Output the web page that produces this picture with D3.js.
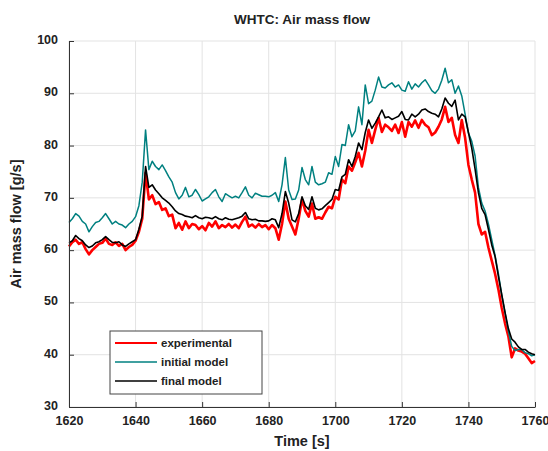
<!DOCTYPE html>
<html>
<head>
<meta charset="utf-8">
<script src="https://cdn.jsdelivr.net/npm/d3@7"></script>
<style>
  html, body { margin: 0; padding: 0; background: #fff; }
  svg { display: block; }
  text { font-family: "Liberation Sans", Arial, sans-serif; font-weight: bold; fill: #222; }
</style>
</head>
<body>
<svg id="chart" width="548" height="451"></svg>
<script>
// ---- data ----
const timeStart = 1620;
const timeTicks = [1620, 1640, 1660, 1680, 1700, 1720, 1740, 1760];
const flowTicks = [30, 40, 50, 60, 70, 80, 90, 100];
const seriesNames = ["experimental", "initial model", "final model"];

const experimental = [
  60.7, 61.5, 62.0, 61.2, 61.5, 60.2, 59.2, 60.0, 60.6, 61.2,
  61.4, 62.2, 61.2, 61.0, 61.5, 60.8, 61.2, 60.0, 60.6, 61.0,
  61.8, 63.5, 66.0, 74.8, 69.7, 70.5, 68.8, 69.2, 67.7, 68.0,
  66.5, 66.8, 64.2, 65.2, 63.9, 65.5, 64.2, 65.0, 64.8, 64.0,
  64.6, 63.8, 65.2, 64.5, 65.5, 64.2, 64.8, 64.4, 65.0, 64.3,
  64.9, 64.2, 65.4, 66.4, 64.5, 64.9, 64.3, 65.0, 64.4, 64.8,
  64.0, 64.8, 64.2, 62.0, 65.0, 69.3, 66.0, 64.5, 63.0, 66.0,
  69.7, 67.5, 66.4, 68.9, 66.0, 66.3, 66.0, 67.2, 68.3, 68.0,
  70.2, 69.7, 73.5, 72.8, 76.0, 75.2, 76.8, 78.6, 76.0, 79.0,
  83.0, 80.5, 83.0, 85.3, 82.6, 84.0, 83.5, 82.8, 84.0, 82.4,
  84.5, 81.7, 84.5, 83.6, 84.8, 83.4, 84.9, 84.0, 83.5, 82.0,
  82.5, 83.6, 85.0, 87.4, 84.5, 85.3, 82.0, 80.5, 84.9, 81.5,
  76.3, 73.5, 71.0, 65.0, 63.0, 63.5, 60.5, 58.0, 55.5, 52.5,
  49.0, 46.0, 43.5, 39.5, 41.2, 40.8, 40.6, 40.2, 39.3, 38.4,
  38.8
];

const initialModel = [
  65.3, 66.0, 67.0, 66.5, 65.5, 65.0, 63.5, 64.5, 65.3, 65.5,
  66.2, 67.0, 66.0, 65.0, 65.5, 65.0, 64.8, 64.3, 65.0, 65.5,
  66.4, 68.5, 73.0, 83.0, 75.4, 77.0, 76.0, 75.4, 76.3, 75.2,
  74.0, 73.0, 71.0, 69.8, 70.5, 72.0, 70.2, 70.5, 71.6, 70.6,
  69.4, 69.8, 70.2, 71.0, 71.6, 70.2, 69.3, 70.8, 70.4, 70.0,
  70.3, 70.0, 71.0, 72.1, 70.5, 70.0, 70.9, 70.6, 70.3, 70.3,
  70.2, 70.5, 71.0, 69.3, 72.5, 77.7, 71.5, 69.7, 69.8, 71.5,
  75.8, 73.5, 72.5, 76.0, 73.0, 72.5, 72.7, 73.0, 74.8, 74.5,
  77.9, 76.0, 80.2, 80.0, 84.0, 81.7, 82.8, 87.4, 84.0, 91.6,
  88.0, 88.5, 90.6, 93.1, 91.2, 91.0, 91.6, 92.0, 91.2, 91.6,
  90.6, 90.4, 92.2, 90.8, 91.8, 91.2, 92.0, 92.6, 91.6, 90.5,
  90.0, 90.8, 92.5, 94.8, 92.0, 92.6, 90.0, 91.4, 89.5, 86.0,
  82.4, 80.8, 78.0, 72.0, 69.0, 67.5, 65.0, 62.0, 59.0, 55.5,
  51.5, 48.0, 44.5, 41.6, 40.8, 41.0, 41.0, 40.4, 40.2, 39.8,
  40.0
];

const finalModel = [
  61.4, 61.8, 62.8, 62.2, 61.8, 61.0, 60.5, 60.8, 61.4, 61.6,
  62.0, 62.6, 62.0, 61.5, 61.4, 61.6, 61.0, 60.7, 61.2, 61.6,
  62.0, 64.0, 66.5, 76.0, 72.0, 72.5, 71.5, 70.8, 70.0, 69.5,
  69.0, 68.3, 67.5, 67.0, 66.8, 66.5, 66.4, 66.2, 66.6, 66.2,
  66.0, 66.3, 66.2, 66.0, 66.4, 66.0, 65.8, 66.2, 65.9, 65.8,
  66.0, 66.2, 66.5, 67.2, 66.0, 65.8, 65.9, 65.6, 65.6, 65.5,
  65.6, 66.0, 65.8, 64.3, 67.0, 71.2, 69.0, 65.8, 65.4, 67.0,
  70.2, 68.5, 67.8, 70.2, 68.0, 67.7, 67.9, 68.5, 69.1, 69.7,
  71.6, 71.4, 74.0, 74.5, 77.3, 76.0, 77.9, 80.5, 79.2, 82.5,
  84.9, 83.3, 84.3, 85.5, 86.8, 85.3, 85.5, 85.0, 85.3, 85.6,
  86.5, 85.0, 84.9, 86.0, 85.5, 86.0, 86.8, 87.0, 86.5, 86.2,
  86.0, 85.5, 87.0, 89.1, 88.1, 87.5, 88.7, 84.9, 86.0, 85.5,
  82.5, 79.5, 75.5, 71.0, 68.0, 66.8, 64.0, 61.0, 58.8, 55.0,
  51.5, 48.1, 45.0, 43.0, 42.4, 41.5, 41.0, 41.0, 40.5, 40.2,
  40.0
];

// ---- layout ----
const svg = d3.select("#chart");
const M = { left: 69, right: 535, top: 41, bottom: 407 };

const x = d3.scaleLinear().domain([1620, 1760]).range([M.left, M.right]);
const y = d3.scaleLinear().domain([30, 100]).range([M.bottom, M.top]);

// grid
const grid = svg.append("g");
grid.selectAll("line.v").data(timeTicks).join("line")
  .attr("x1", d => x(d)).attr("x2", d => x(d))
  .attr("y1", M.top).attr("y2", M.bottom)
  .attr("stroke", "#e3e3e3").attr("stroke-width", 1);
grid.selectAll("line.h").data(flowTicks).join("line")
  .attr("x1", M.left).attr("x2", M.right)
  .attr("y1", d => y(d)).attr("y2", d => y(d))
  .attr("stroke", "#e3e3e3").attr("stroke-width", 1);

// lines
const toPts = arr => arr.map((v, i) => [timeStart + i, v]);
const line = d3.line().x(d => x(d[0])).y(d => y(d[1]));
const series = [
  { name: seriesNames[0], data: experimental, color: "#ff0000", width: 2.6 },
  { name: seriesNames[1], data: initialModel, color: "#008080", width: 1.5 },
  { name: seriesNames[2], data: finalModel, color: "#000000", width: 1.6 }
];
svg.append("g").selectAll("path").data(series).join("path")
  .attr("d", s => line(toPts(s.data)))
  .attr("fill", "none")
  .attr("stroke", s => s.color)
  .attr("stroke-width", s => s.width)
  .attr("stroke-linejoin", "round");

// axes
const fmt = d3.format("d");
const xAxis = d3.axisBottom(x).tickValues(timeTicks).tickFormat(fmt).tickSize(-5).tickPadding(9).tickSizeOuter(0);
const yAxis = d3.axisLeft(y).tickValues(flowTicks).tickFormat(fmt).tickSize(-5).tickPadding(11).tickSizeOuter(0);
const gx = svg.append("g").attr("transform", `translate(0,${M.bottom})`).call(xAxis);
const gy = svg.append("g").attr("transform", `translate(${M.left},0)`).call(yAxis);
[gx, gy].forEach(g => {
  g.select(".domain").attr("stroke", "#333").attr("stroke-width", 1);
  g.selectAll(".tick line").attr("stroke", "#333");
  g.selectAll(".tick text").attr("font-size", 12.5).attr("font-weight", "bold")
    .attr("font-family", "'Liberation Sans', Arial, sans-serif").attr("fill", "#222");
});
gy.selectAll(".tick text").attr("dy", "0.2em");

// title and axis labels
svg.append("text").attr("x", (M.left + M.right) / 2).attr("y", 24)
  .attr("text-anchor", "middle").attr("font-size", 13.5).text("WHTC: Air mass flow");
svg.append("text").attr("x", (M.left + M.right) / 2).attr("y", 446)
  .attr("text-anchor", "middle").attr("font-size", 14.5).text("Time [s]");
svg.append("text")
  .attr("transform", `translate(21,${(M.top + M.bottom) / 2}) rotate(-90)`)
  .attr("text-anchor", "middle").attr("font-size", 14.5).text("Air mass flow [g/s]");

// legend
const lg = svg.append("g").attr("transform", "translate(110,331)");
lg.append("rect").attr("width", 152).attr("height", 63)
  .attr("fill", "#fff").attr("stroke", "#444").attr("stroke-width", 1);
const items = lg.selectAll("g.item").data(series).join("g")
  .attr("transform", (d, i) => `translate(0,${12 + i * 19})`);
items.append("line").attr("x1", 5).attr("x2", 47).attr("y1", 0).attr("y2", 0)
  .attr("stroke", d => d.color).attr("stroke-width", d => d.name === "experimental" ? 2 : 1.3);
items.append("text").attr("x", 51).attr("y", 4).attr("font-size", 11.5).text(d => d.name);
</script>
</body>
</html>
